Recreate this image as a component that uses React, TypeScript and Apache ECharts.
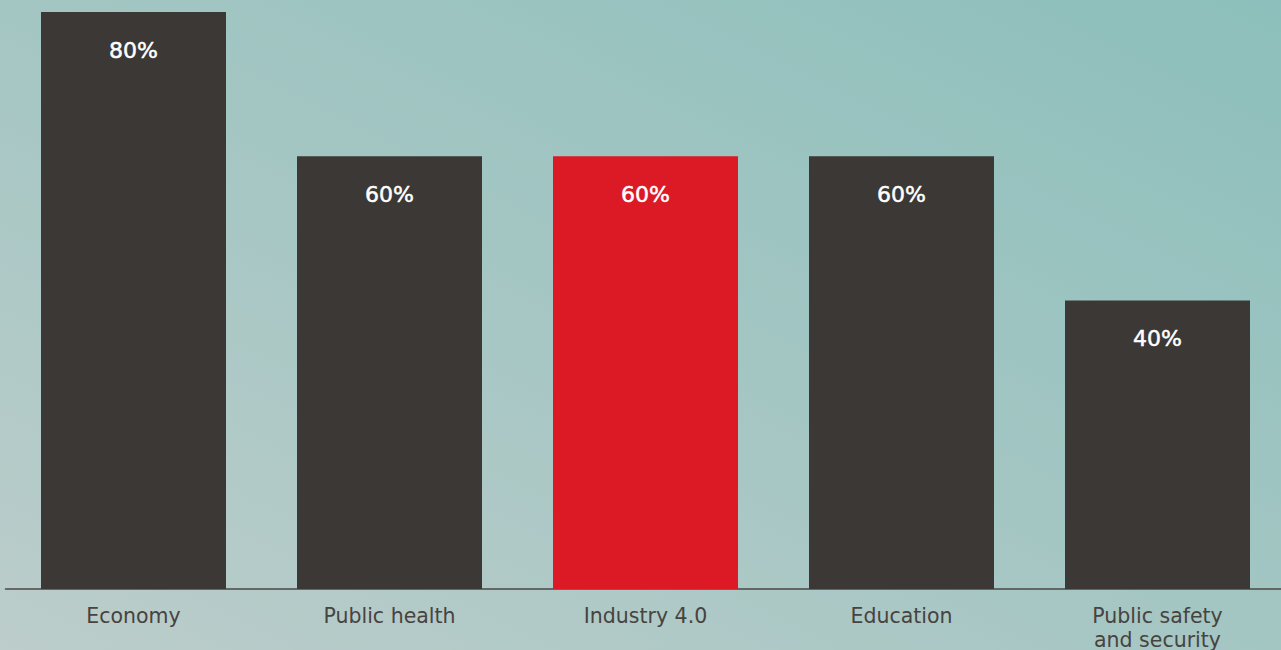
import React, { useEffect, useRef } from "react";
import * as echarts from "echarts";

const categories = ["Economy", "Public health", "Industry 4.0", "Education", "Public safety\nand security"];
const values = [80, 60, 60, 60, 40];
const highlightIndex = 2;

export default function App() {
  const ref = useRef<HTMLDivElement>(null);
  useEffect(() => {
    if (!ref.current) return;
    const chart = echarts.init(ref.current, null, { renderer: "svg" });
    chart.setOption({
      animation: false,
      backgroundColor: new echarts.graphic.LinearGradient(0, 1, 1, 0, [
        { offset: 0, color: "#bccdcb" },
        { offset: 1, color: "#8cbfbb" },
      ]),
      grid: { left: 5.5, width: 1280, top: 12, height: 577, outerBoundsMode: "none", containLabel: false },
      xAxis: {
        type: "category",
        data: categories,
        axisTick: { show: false },
        axisLine: { lineStyle: { color: "#4a4744", width: 1.5 } },
        axisLabel: {
          color: "#47433f",
          fontFamily: "DejaVu Sans",
          fontSize: 20.5,
          lineHeight: 24,
          margin: 15,
          interval: 0,
        },
      },
      yAxis: {
        type: "value",
        min: 0,
        max: 80,
        show: false,
        splitLine: { show: false },
      },
      series: [
        {
          type: "bar",
          barWidth: 185,
          z: 1,
          data: values.map((v, i) => ({
            value: v,
            itemStyle: { color: i === highlightIndex ? "#dc1a26" : "#3c3835" },
          })),
          label: {
            show: true,
            position: "insideTop",
            distance: 27,
            color: "#ffffff",
            fontFamily: "DejaVu Sans",
            fontWeight: "normal",
            fontSize: 22,
            textBorderColor: "#ffffff",
            textBorderWidth: 0.5,
            formatter: "{c}%",
          },
        },
      ],
    });
    return () => chart.dispose();
  }, []);
  return (
    <div
      ref={ref}
      style={{ position: "fixed", left: 0, top: 0, width: 1290, height: 650 }}
    />
  );
}
